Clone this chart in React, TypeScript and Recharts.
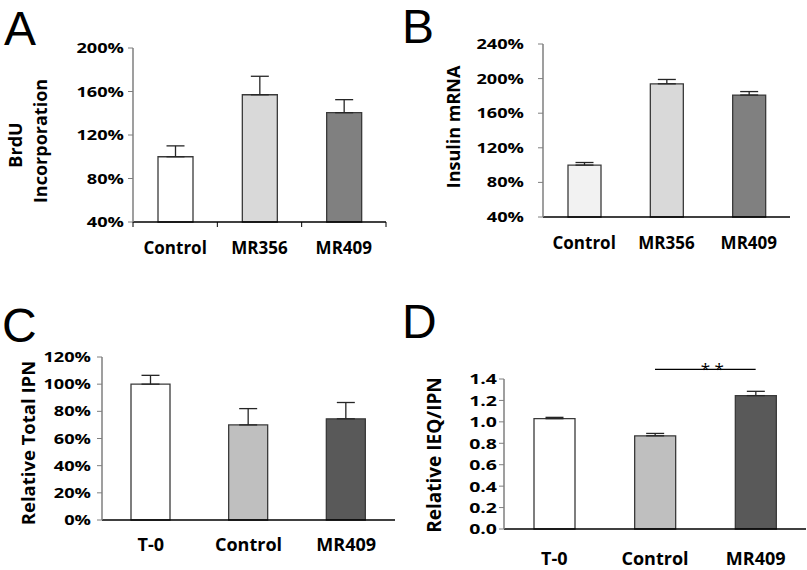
import React from 'react';
import { BarChart, Bar, XAxis, YAxis, Cell, ErrorBar, ReferenceLine } from 'recharts';

// groups
const groupsAB = ['Control', 'MR356', 'MR409'];
const groupsCD = ['T-0', 'Control', 'MR409'];

// A: BrdU incorporation (%)
const brduMean = [100, 157, 140.5];
const brduErr = [10, 17, 12];
const brduTicks = [40, 80, 120, 160, 200];

// B: insulin mRNA (%)
const insulinMean = [100, 194, 181];
const insulinErr = [3, 5, 4];
const insulinTicks = [40, 80, 120, 160, 200, 240];

// C: relative total IPN (%)
const ipnMean = [100, 70, 74.5];
const ipnErr = [6.5, 12, 12];
const ipnTicks = [0, 20, 40, 60, 80, 100, 120];

// D: relative IEQ/IPN
const ieqMean = [1.03, 0.87, 1.245];
const ieqErr = [0.012, 0.022, 0.04];
const ieqTicks = [0, 0.2, 0.4, 0.6, 0.8, 1.0, 1.2, 1.4];
const sigLevel = 1.49;

const coloursA = ['#ffffff', '#d9d9d9', '#808080'];
const coloursB = ['#f2f2f2', '#d9d9d9', '#808080'];
const coloursCD = ['#ffffff', '#bfbfbf', '#595959'];

const FONT = '"Open Sans", sans-serif';

const build = (names: string[], mean: number[], err: number[]) =>
  names.map((name, i) => ({ name, value: mean[i], err: [0, err[i]] }));

const pct = (v: number) => `${v}%`;
const dec = (v: number) => v.toFixed(1);

const YTick = (props: any) => {
  const { x, y, payload, fmt, size } = props;
  return (
    <g transform={`translate(${x},${y})`}>
      <text
        transform="scale(1.3,1)"
        textAnchor="end"
        dy="0.36em"
        fontFamily={FONT}
        fontWeight={700}
        fontSize={size}
        fill="#000"
      >
        {fmt(payload.value)}
      </text>
    </g>
  );
};

const XTick = (props: any) => {
  const { x, y, payload, size, gap, band, index, visibleTicksCount } = props;
  const axisY = y - gap;
  return (
    <g>
      {band ? (
        <line x1={x - band / 2} x2={x - band / 2} y1={axisY} y2={axisY + 5} stroke="#000" />
      ) : null}
      {band && index === visibleTicksCount - 1 ? (
        <line x1={x + band / 2} x2={x + band / 2} y1={axisY} y2={axisY + 5} stroke="#000" />
      ) : null}
      <text
        x={x}
        y={y}
        dy="0.71em"
        textAnchor="middle"
        fontFamily={FONT}
        fontWeight={700}
        fontSize={size}
        fill="#000"
      >
        {payload.value}
      </text>
    </g>
  );
};

const StarLabel = (props: any) => {
  const vb = props.viewBox || {};
  return (
    <text
      x={vb.x + vb.width / 2 + 7}
      y={vb.y + 6}
      textAnchor="middle"
      fontFamily={FONT}
      fontSize={17}
      fill="#000"
    >
      * *
    </text>
  );
};

interface PanelProps {
  box: { x: number; y: number; w: number; h: number };
  plot: { l: number; r: number; t: number; b: number };
  data: { name: string; value: number; err: number[] }[];
  ticks: number[];
  fmt: (v: number) => string;
  colours: string[];
  barSize: number;
  yGap: number;
  xGap: number;
  ySize: number;
  xSize: number;
  marks?: boolean;
  children?: React.ReactNode;
}

function Panel({ box, plot, data, ticks, fmt, colours, barSize, yGap, xGap, ySize, xSize, marks, children }: PanelProps) {
  const band = marks ? (plot.r - plot.l) / data.length : 0;
  return (
    <div style={{ position: 'absolute', left: box.x, top: box.y }}>
      <BarChart
        width={box.w}
        height={box.h}
        data={data}
        margin={{ top: plot.t - box.y, right: box.x + box.w - plot.r, bottom: 0, left: 0 }}
      >
        <XAxis
          dataKey="name"
          height={box.y + box.h - plot.b}
          axisLine={{ stroke: '#000', strokeWidth: 1.3 }}
          tickLine={false}
          tickSize={0}
          tickMargin={xGap}
          interval={0}
          tick={<XTick size={xSize} gap={xGap} band={band} />}
        />
        <YAxis
          type="number"
          width={plot.l - box.x}
          domain={[ticks[0], ticks[ticks.length - 1]]}
          ticks={ticks}
          interval={0}
          axisLine={{ stroke: '#7f7f7f', strokeWidth: 1.5 }}
          tickLine={{ stroke: '#7f7f7f' }}
          tickSize={5}
          tickMargin={yGap}
          tick={<YTick fmt={fmt} size={ySize} />}
        />
        <Bar dataKey="value" barSize={barSize} stroke="#3a3a3a" strokeWidth={1.3} isAnimationActive={false}>
          {data.map((d, i) => (
            <Cell key={d.name} fill={colours[i]} />
          ))}
          <ErrorBar dataKey="err" direction="y" width={9} stroke="#262626" strokeWidth={1.3} isAnimationActive={false} />
        </Bar>
        {children}
      </BarChart>
    </div>
  );
}

export default function App() {
  const label = (x: number, y: number, size: number, text: string) => (
    <text
      transform={`translate(${x},${y}) rotate(-90)`}
      textAnchor="middle"
      fontFamily={FONT}
      fontWeight={700}
      fontSize={size}
      fill="#000"
    >
      {text}
    </text>
  );
  return (
    <div style={{ position: 'absolute', left: 0, top: 0, width: 807, height: 570, background: '#fff' }}>
      <Panel
        box={{ x: 0, y: 0, w: 400, h: 285 }}
        plot={{ l: 133, r: 386, t: 48, b: 222 }}
        data={build(groupsAB, brduMean, brduErr)}
        ticks={brduTicks}
        fmt={pct}
        colours={coloursA}
        barSize={35}
        yGap={4}
        xGap={20}
        ySize={14}
        xSize={17}
        marks
      />
      <Panel
        box={{ x: 400, y: 0, w: 407, h: 285 }}
        plot={{ l: 543, r: 790, t: 44, b: 217 }}
        data={build(groupsAB, insulinMean, insulinErr)}
        ticks={insulinTicks}
        fmt={pct}
        colours={coloursB}
        barSize={33}
        yGap={14}
        xGap={20}
        ySize={14}
        xSize={17}
      />
      <Panel
        box={{ x: 0, y: 285, w: 400, h: 285 }}
        plot={{ l: 102, r: 395, t: 357, b: 520 }}
        data={build(groupsCD, ipnMean, ipnErr)}
        ticks={ipnTicks}
        fmt={pct}
        colours={coloursCD}
        barSize={39}
        yGap={6}
        xGap={18}
        ySize={14}
        xSize={18}
      />
      <Panel
        box={{ x: 400, y: 285, w: 407, h: 285 }}
        plot={{ l: 504, r: 806, t: 379, b: 529 }}
        data={build(groupsCD, ieqMean, ieqErr)}
        ticks={ieqTicks}
        fmt={dec}
        colours={coloursCD}
        barSize={41}
        yGap={2}
        xGap={23}
        ySize={15}
        xSize={18}
      >
        <ReferenceLine
          segment={[
            { x: 'Control', y: sigLevel },
            { x: 'MR409', y: sigLevel },
          ]}
          stroke="#000"
          strokeWidth={1.2}
          ifOverflow="visible"
          label={<StarLabel />}
        />
      </Panel>
      <svg width={807} height={570} style={{ position: 'absolute', left: 0, top: 0, pointerEvents: 'none' }}>
        <g fontFamily='"Liberation Sans", Arial, sans-serif' fontSize={48} fill="#000">
          <text x={4} y={45}>A</text>
          <text x={402} y={43}>B</text>
          <text x={2} y={342}>C</text>
          <text x={402} y={338}>D</text>
        </g>
        {label(22, 145, 18, 'BrdU')}
        {label(47, 141, 18, 'Incorporation')}
        {label(460, 127, 18, 'Insulin mRNA')}
        {label(35, 443, 18.5, 'Relative Total IPN')}
        {label(441, 455, 19, 'Relative IEQ/IPN')}
      </svg>
    </div>
  );
}
